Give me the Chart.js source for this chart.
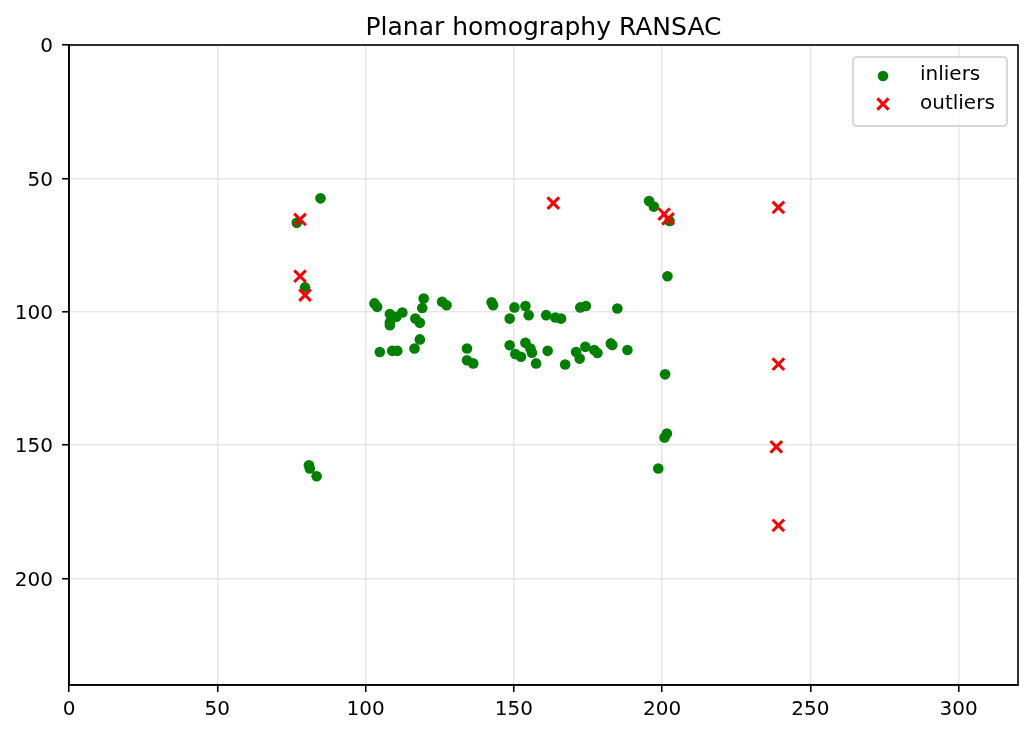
<!DOCTYPE html>
<html>
<head>
<meta charset="utf-8">
<script src="https://cdn.jsdelivr.net/npm/chart.js@4.4.1/dist/chart.umd.min.js"></script>
<style>
  html, body { margin: 0; padding: 0; background: #ffffff; }
  #wrap { width: 1032px; height: 735px; position: relative; }
</style>
</head>
<body>
<div id="wrap"><canvas id="c" width="1032" height="735"></canvas></div>
<script>
const chartTitle = "Planar homography RANSAC";
const seriesNames = ["inliers", "outliers"];

const inlierX = [84.8, 76.8, 79.6, 103.0, 103.9, 108.2, 108.2, 108.2, 110.4, 112.4,
  119.6, 119.1, 125.8, 127.3, 116.8, 118.3, 118.3, 116.5, 104.8, 109.0,
  110.7, 134.2, 134.2, 136.3, 142.5, 143.0, 150.2, 153.9, 148.6, 155.0,
  160.9, 164.0, 165.9, 172.4, 174.3, 184.9, 148.6, 150.5, 152.4, 153.9,
  155.6, 156.1, 157.5, 161.4, 167.3, 171.0, 172.2, 174.1, 177.1, 178.2,
  182.7, 183.2, 188.3, 195.6, 197.2, 202.5, 201.8, 201.0, 201.6, 200.8,
  198.7, 80.9, 81.2, 83.5];
const inlierY = [57.5, 66.7, 90.9, 96.9, 98.2, 100.9, 104.0, 105.1, 101.9, 100.3,
  95.1, 98.6, 96.3, 97.6, 102.6, 104.2, 110.4, 113.8, 115.1, 114.7,
  114.7, 113.8, 118.2, 119.4, 96.5, 97.6, 98.4, 97.9, 102.6, 101.3,
  101.3, 102.2, 102.6, 98.4, 97.9, 98.8, 112.6, 115.9, 116.9, 111.7,
  113.8, 115.4, 119.4, 114.7, 119.8, 115.1, 117.6, 113.2, 114.4, 115.5,
  111.9, 112.5, 114.4, 58.5, 60.6, 66.0, 86.7, 123.5, 145.7, 147.2,
  158.8, 157.6, 158.8, 161.7];

const outlierX = [77.9, 77.9, 79.6, 163.3, 200.7, 202.0, 239.2, 239.2, 238.5, 239.2];
const outlierY = [65.4, 86.7, 93.8, 59.3, 63.4, 65.2, 60.9, 119.7, 150.7, 180.1];

const xTicks = [0, 50, 100, 150, 200, 250, 300];
const yTicks = [0, 50, 100, 150, 200];
const xRange = [0, 320];
const yRange = [0, 240];

const FONT = "'DejaVu Sans', 'Liberation Sans', sans-serif";
const inlierColor = "#008000";
const outlierColor = "#ff0000";

const toPts = (xs, ys) => xs.map((x, i) => ({ x: x, y: ys[i] }));

const framePlugin = {
  id: "frame",
  afterDraw(chart) {
    const ctx = chart.ctx, a = chart.chartArea;
    ctx.save();
    ctx.strokeStyle = "#000000";
    ctx.lineWidth = 1.6;
    ctx.strokeRect(a.left, a.top, a.right - a.left, a.bottom - a.top);
    // legend inside plot area (upper right)
    const bx = 853, by = 57, bw = 154, bh = 69, r = 4;
    ctx.beginPath();
    ctx.moveTo(bx + r, by);
    ctx.lineTo(bx + bw - r, by);
    ctx.quadraticCurveTo(bx + bw, by, bx + bw, by + r);
    ctx.lineTo(bx + bw, by + bh - r);
    ctx.quadraticCurveTo(bx + bw, by + bh, bx + bw - r, by + bh);
    ctx.lineTo(bx + r, by + bh);
    ctx.quadraticCurveTo(bx, by + bh, bx, by + bh - r);
    ctx.lineTo(bx, by + r);
    ctx.quadraticCurveTo(bx, by, bx + r, by);
    ctx.closePath();
    ctx.fillStyle = "rgba(255,255,255,0.8)";
    ctx.fill();
    ctx.strokeStyle = "#cccccc";
    ctx.lineWidth = 1.5;
    ctx.stroke();
    // markers
    ctx.fillStyle = inlierColor;
    ctx.beginPath();
    ctx.arc(883, 76, 5.3, 0, Math.PI * 2);
    ctx.fill();
    ctx.strokeStyle = outlierColor;
    ctx.lineWidth = 3;
    ctx.beginPath();
    const cx = 883, cy = 104, h = 5.6;
    ctx.moveTo(cx - h, cy - h); ctx.lineTo(cx + h, cy + h);
    ctx.moveTo(cx - h, cy + h); ctx.lineTo(cx + h, cy - h);
    ctx.stroke();
    ctx.fillStyle = "#000000";
    ctx.font = "20px " + FONT;
    ctx.textAlign = "left";
    ctx.textBaseline = "middle";
    ctx.fillText(seriesNames[0], 920, 75);
    ctx.fillText(seriesNames[1], 920, 104);
    ctx.restore();
  }
};

new Chart(document.getElementById("c"), {
  type: "scatter",
  data: {
    datasets: [
      {
        label: seriesNames[0],
        data: toPts(inlierX, inlierY),
        backgroundColor: inlierColor,
        borderColor: inlierColor,
        borderWidth: 0,
        pointRadius: 5.3,
        pointStyle: "circle",
        order: 2
      },
      {
        label: seriesNames[1],
        data: toPts(outlierX, outlierY),
        backgroundColor: outlierColor,
        borderColor: outlierColor,
        borderWidth: 3,
        pointRadius: 8.2,
        pointStyle: "crossRot",
        order: 1
      }
    ]
  },
  options: {
    responsive: false,
    animation: false,
    devicePixelRatio: 1,
    layout: { padding: { left: 0, right: 14, top: 0, bottom: 0 } },
    plugins: {
      legend: { display: false },
      tooltip: { enabled: false },
      title: {
        display: true,
        text: chartTitle,
        fullSize: false,
        color: "#000000",
        font: { family: FONT, size: 25, weight: "normal", lineHeight: 1.2 },
        padding: { top: 13, bottom: 2 }
      }
    },
    scales: {
      x: {
        type: "linear",
        min: xRange[0],
        max: xRange[1],
        afterBuildTicks: (s) => { s.ticks = xTicks.map(v => ({ value: v })); },
        afterFit: (s) => { s.height = 50; },
        border: { display: true, color: "#000000", width: 1.6 },
        grid: { color: "rgba(176,176,176,0.3)", lineWidth: 1.5, tickColor: "#000000", tickWidth: 1.6, tickLength: 7 },
        ticks: { color: "#000000", font: { family: FONT, size: 20 }, padding: 6, maxRotation: 0 }
      },
      y: {
        type: "linear",
        reverse: true,
        min: yRange[0],
        max: yRange[1],
        afterBuildTicks: (s) => { s.ticks = yTicks.map(v => ({ value: v })); },
        afterFit: (s) => { s.width = 69; },
        border: { display: true, color: "#000000", width: 1.6 },
        grid: { color: "rgba(176,176,176,0.3)", lineWidth: 1.5, tickColor: "#000000", tickWidth: 1.6, tickLength: 7 },
        ticks: { color: "#000000", font: { family: FONT, size: 20 }, padding: 9, labelOffset: 2 }
      }
    }
  },
  plugins: [framePlugin]
});
</script>
</body>
</html>
